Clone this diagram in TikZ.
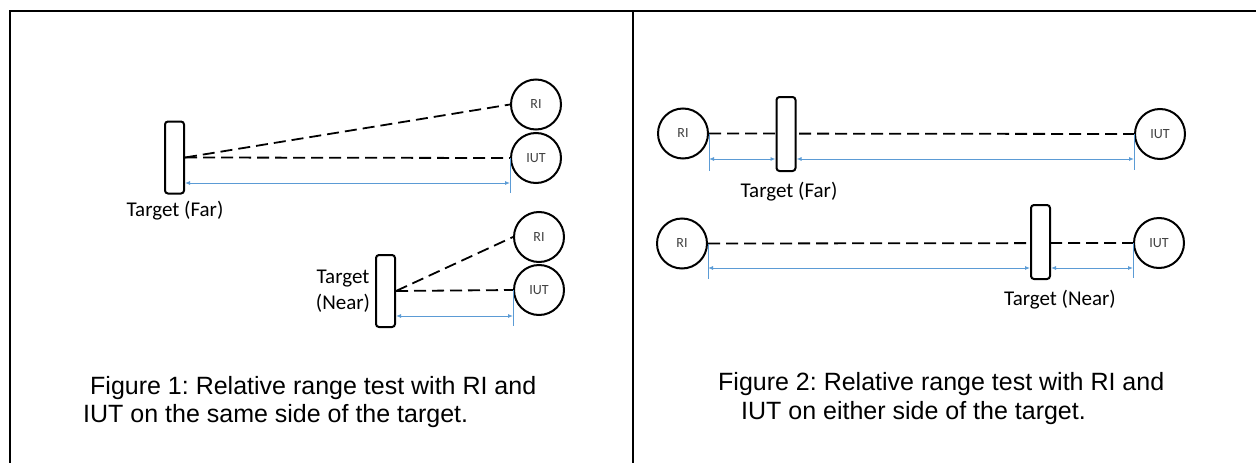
\documentclass[tikz,border=0pt]{standalone}
\usepackage{fontspec}
\setmainfont{Carlito}
\newfontfamily\capfont{Liberation Sans}
\usetikzlibrary{arrows.meta}
\frenchspacing
\definecolor{dimblue}{RGB}{91,155,213}
\definecolor{lblgray}{RGB}{64,64,64}
\tikzset{
  station/.style={draw,circle,line width=2pt,minimum size=50pt,inner sep=0pt,font=\fontsize{14}{14}\selectfont,text=lblgray},
  target/.style={draw,fill=white,rounded corners=3pt,line width=2pt,minimum width=19pt,minimum height=72pt,inner sep=0pt},
  beam/.style={line width=1.8pt,dash pattern=on 12pt off 6pt},
  dim/.style={dimblue,line width=0.9pt,{Latex[length=5pt,width=4pt]}-{Latex[length=5pt,width=4pt]}},
  tick/.style={dimblue,line width=0.9pt},
  lbl/.style={font=\fontsize{21}{26}\selectfont,inner sep=0pt},
  caption/.style={font=\capfont\fontsize{25}{28}\selectfont,anchor=base west,inner sep=0pt}
}
\begin{document}
\begin{tikzpicture}[x=1pt,y=-1pt]
  \useasboundingbox (0,0) rectangle (1256,463);
  % frame
  \draw[line width=2.4pt] (10,463) -- (10,11) -- (1256,11);
  \draw[line width=1.4pt] (633,11) -- (633,463);

  % same side, far target
  \node[station] (riA) at (536,104.5) {RI};
  \node[station] (iutA) at (536,158) {IUT};
  \node[target] (tgtA) at (174.5,157.5) {};
  \node[lbl] (lblA) at (175,211) {Target (Far)};
  \draw[beam] (tgtA.east) -- (riA.west);
  \draw[beam] (tgtA.east) -- (iutA.west);
  \draw[tick] (iutA.west) -- ++(0,35) coordinate (tkA);
  \draw[dim] (tgtA.east |- 0,183) -- (tkA |- 0,183);

  % same side, near target
  \node[station] (riB) at (539,237) {RI};
  \node[station] (iutB) at (539,290) {IUT};
  \node[target] (tgtB) at (385.5,291) {};
  \node[lbl,align=center] (lblB) at (343,291) {Target\\(Near)};
  \draw[beam] (tgtB.east) -- (riB.west);
  \draw[beam] (tgtB.east) -- (iutB.west);
  \draw[tick] (iutB.west) -- ++(0,36) coordinate (tkB);
  \draw[dim] (tgtB.east |- 0,316) -- (tkB |- 0,316);

  % either side, far target
  \node[station] (riC) at (683,133.5) {RI};
  \node[station] (iutC) at (1160,134) {IUT};
  \draw[beam] (riC.east) -- (iutC.west);
  \node[target,minimum height=74pt] (tgtC) at (786,134) {};
  \node[lbl] (lblC) at (789,192) {Target (Far)};
  \draw[tick] (riC.east) -- ++(0,37) coordinate (tkC1);
  \draw[tick] (iutC.west) -- ++(0,36) coordinate (tkC2);
  \draw[dim] (tkC1 |- 0,159) -- (tgtC.west |- 0,159);
  \draw[dim] (tgtC.east |- 0,159) -- (tkC2 |- 0,159);

  % either side, near target
  \node[station] (riD) at (682,243.5) {RI};
  \node[station] (iutD) at (1159,243) {IUT};
  \draw[beam] (riD.east) -- (iutD.west);
  \node[target,minimum height=74pt] (tgtD) at (1040.5,242) {};
  \node[lbl] (lblD) at (1060,300) {Target (Near)};
  \draw[tick] (riD.east) -- ++(0,35) coordinate (tkD1);
  \draw[tick] (iutD.west) -- ++(0,35) coordinate (tkD2);
  \draw[dim] (tkD1 |- 0,268) -- (tgtD.west |- 0,268);
  \draw[dim] (tgtD.east |- 0,268) -- (tkD2 |- 0,268);

  % captions
  \node[caption] (capA1) at (90,394) {Figure 1: Relative range test with RI and};
  \node[caption] (capA2) at (83,422) {IUT on the same side of the target.};
  \node[caption] (capB1) at (718,390) {Figure 2: Relative range test with RI and};
  \node[caption] (capB2) at (741,419) {IUT on either side of the target.};
\end{tikzpicture}
\end{document}
